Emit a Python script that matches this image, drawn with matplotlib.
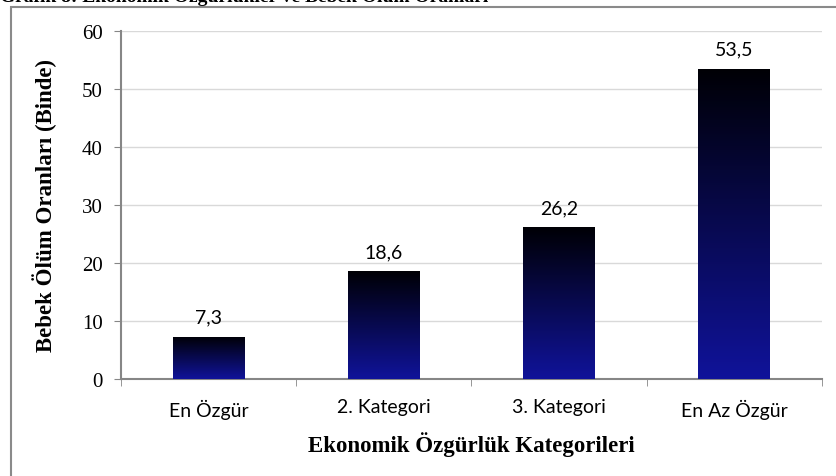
import numpy as np
import matplotlib
matplotlib.use('Agg')
import matplotlib.pyplot as plt
from matplotlib.colors import LinearSegmentedColormap
from matplotlib.patches import Rectangle

categories = ['En Özgür', '2. Kategori', '3. Kategori', 'En Az Özgür']
values = [7.3, 18.6, 26.2, 53.5]
labels = ['7,3', '18,6', '26,2', '53,5']

serif = 'Liberation Serif'
sans = 'Lato'

fig = plt.figure(figsize=(8.37, 4.77), dpi=100)
ax = fig.add_axes([121 / 837, 1 - 380 / 477, 701 / 837, 348 / 477])

# outer frame (cut off at right / bottom)
fig.patches.append(Rectangle((11 / 837, -0.1), 1.2, 1 - 8 / 477 + 0.1,
                             transform=fig.transFigure, fill=False,
                             edgecolor='#8a8a8a', linewidth=1.5))
fig.text(0, 1 - 1.5 / 477, 'Grafik 8: Ekonomik Özgürlükler ve Bebek Ölüm Oranları',
         family=serif, weight='bold', fontsize=14, va='baseline', ha='left')

x = np.arange(len(categories))
bars = ax.bar(x, values, width=0.41, color='none', zorder=3)

cmap = LinearSegmentedColormap.from_list('g', ['#10139a', '#000005'])
grad = np.linspace(0, 1, 256).reshape(-1, 1)
for b in bars:
    im = ax.imshow(grad, cmap=cmap, aspect='auto', origin='lower',
                   extent=[b.get_x(), b.get_x() + b.get_width(), 0, b.get_height()],
                   zorder=3)
    im.set_clip_path(b)

for xi, v, lab in zip(x, values, labels):
    ax.annotate(lab, (xi, v), xytext=(0, 8), textcoords='offset points',
                ha='center', va='bottom', family=sans, fontsize=14)

ax.set_xlim(-0.5, len(categories) - 0.5)
ax.set_ylim(0, 60)
ax.set_yticks(range(0, 61, 10))
ax.tick_params(axis='y', labelsize=15, length=5, color='#868686', pad=8)
for t in ax.get_yticklabels():
    t.set_family(serif)
ax.set_xticks(x)
ax.set_xticklabels(categories, family=sans, fontsize=14)
ax.set_xticks(np.arange(-0.5, len(categories)), minor=True)
ax.tick_params(axis='x', which='major', length=0, pad=14)
ax.tick_params(axis='x', which='minor', length=5, color='#868686')

ax.grid(axis='y', color='#d9d9d9', linewidth=1, zorder=0)
ax.set_axisbelow(True)
for s in ['top', 'right']:
    ax.spines[s].set_visible(False)
for s in ['left', 'bottom']:
    ax.spines[s].set_color('#868686')
    ax.spines[s].set_linewidth(1.5)

ax.set_ylabel('Bebek Ölüm Oranları (Binde)', family=serif, weight='bold',
              fontsize=16.5, labelpad=18)
ax.set_xlabel('Ekonomik Özgürlük Kategorileri', family=serif, weight='bold',
              fontsize=16.5, labelpad=9)

fig.savefig('out.png', dpi=100)
